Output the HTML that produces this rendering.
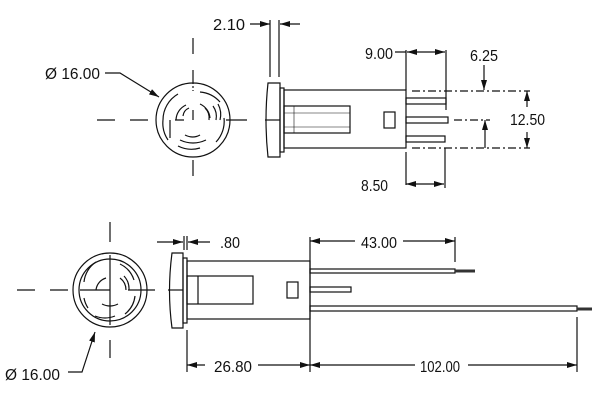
<!DOCTYPE html>
<html><head><meta charset="utf-8"><style>
html,body{margin:0;padding:0;background:#fff;width:600px;height:404px;overflow:hidden}
text{font-family:"Liberation Sans",sans-serif;font-size:16px;fill:#111}
</style></head><body>
<svg width="600" height="404" viewBox="0 0 600 404" xmlns="http://www.w3.org/2000/svg">
<defs>
<marker id="a" viewBox="0 0 10 6" refX="10" refY="3" markerWidth="10" markerHeight="6" orient="auto" markerUnits="userSpaceOnUse"><path d="M0,0L10,3L0,6z" fill="#111"/></marker>
</defs>
<g stroke="#111" stroke-width="1.2" fill="none">
<!-- TOP front circle -->
<circle cx="193" cy="120" r="37"/>
<path d="M97 120h18M130 120h18M226 120h21M193 38v16M193 70v12M193 160v16" />
<path d="M193 82v9" stroke-dasharray="2 2"/>
<path d="M163 120a30 30 0 0 1 15-26M200 92a30 30 0 0 1 20 10M224 118a30 30 0 0 1-8 24M200 148a30 30 0 0 1-22-2M168 140a30 30 0 0 1-5-20"/>
<path d="M176 120a17 17 0 0 1 10-15M200 104a17 17 0 0 1 10 14M183 116a10 10 0 0 1 6-8M205 108a14 14 0 0 1 4 12M213 106a18 18 0 0 1 3 14M218 104a22 22 0 0 1 2 16"/>
<path d="M175 120h9M193 110v10M170 120v18M185 135q8 4 15 0M180 140q13 6 26 0"/>
<!-- leader -->
<path d="M105 73h15l39 24" marker-end="url(#a)"/>
<!-- 2.10 -->
<path d="M250 24h20" marker-end="url(#a)"/><path d="M300 24h-20" marker-end="url(#a)"/>
<path d="M270 20v57M279 20v57"/>
<!-- top side view -->
<path d="M268 83h12v74h-12q-4-37 0-74z"/>
<path d="M265 120h15"/>
<rect x="280" y="88" width="4" height="64"/>
<rect x="284" y="90" width="122" height="58"/>
<rect x="284" y="106" width="66" height="27"/>
<path d="M294 106v27M284 113h66M284 127h66" stroke-width="0.6"/>
<rect x="384" y="112" width="11" height="16"/>
<rect x="406" y="98" width="40" height="6"/>
<rect x="406" y="117" width="42" height="6"/>
<rect x="406" y="136" width="39" height="6"/>
<!-- top dims -->
<path d="M406 50v40M446 50v60M395 52h11"/>
<path d="M426 52h-19" marker-end="url(#a)"/><path d="M426 52h19" marker-end="url(#a)"/>
<path d="M484 65v25" marker-end="url(#a)"/>
<path d="M412 91h118M412 148h118M454 120h36" stroke-dasharray="8 3 2 3"/>
<path d="M527 107v-16" marker-end="url(#a)"/><path d="M527 132v16" marker-end="url(#a)"/>
<path d="M485 148v-28" marker-end="url(#a)"/>
<path d="M406 152v33M445 148v40"/>
<path d="M425 184h-19" marker-end="url(#a)"/><path d="M425 184h19" marker-end="url(#a)"/>
<!-- BOTTOM front circle -->
<circle cx="110" cy="290" r="37"/>
<circle cx="110" cy="290" r="31"/>
<path d="M17 290h18M50 290h18M128 290h27M110 222v20M110 255v70M110 340v18M80 290h30"/>
<path d="M84 282a27 27 0 0 1 12-20M120 264a27 27 0 0 1 14 16M135 296a27 27 0 0 1-10 18M115 316a27 27 0 0 1-20 0M88 308a27 27 0 0 1-4-10"/>
<path d="M96 290a14 14 0 0 1 10-12M120 278a15 15 0 0 1 6 12M124 276a19 19 0 0 1 5 14M102 304q8 4 16 0"/>
<path d="M68 372h14l13-40" marker-end="url(#a)"/>
<!-- bottom side -->
<path d="M172 253h11v75h-11q-5-37 0-75z"/>
<path d="M168 290h15"/>
<rect x="183" y="258" width="4" height="65"/>
<rect x="187" y="261" width="123" height="58"/>
<rect x="187" y="276" width="66" height="28"/>
<path d="M198 276v28"/>
<rect x="287" y="282" width="11" height="16"/>
<rect x="310" y="269" width="145" height="4"/>
<rect x="310" y="287" width="41" height="5"/>
<rect x="310" y="306" width="267" height="5"/>
<path d="M455 271h20M577 309h15" stroke-width="3" stroke="#333"/>
<!-- bottom dims -->
<path d="M157 242h26" marker-end="url(#a)"/><path d="M210 242h-22" marker-end="url(#a)"/>
<path d="M184 236v14M187 236v14"/>
<path d="M310 237v135M455 237v25M187 330v42M577 317v55"/>
<path d="M355 241h-45" marker-end="url(#a)"/><path d="M403 241h52" marker-end="url(#a)"/>
<path d="M205 365h-18" marker-end="url(#a)"/><path d="M258 365h52" marker-end="url(#a)"/>
<path d="M415 365h-105" marker-end="url(#a)"/><path d="M468 365h109" marker-end="url(#a)"/>
</g>
<g>
<text x="45" y="79" textLength="55" lengthAdjust="spacingAndGlyphs">Ø 16.00</text>
<text x="213" y="30" textLength="32" lengthAdjust="spacingAndGlyphs">2.10</text>
<text x="365" y="59" textLength="28" lengthAdjust="spacingAndGlyphs">9.00</text>
<text x="470" y="61" textLength="28" lengthAdjust="spacingAndGlyphs">6.25</text>
<text x="510" y="125" textLength="35" lengthAdjust="spacingAndGlyphs" style="paint-order:stroke" stroke="#fff" stroke-width="4">12.50</text>
<text x="361" y="191" textLength="27" lengthAdjust="spacingAndGlyphs">8.50</text>
<text x="220" y="248" textLength="20" lengthAdjust="spacingAndGlyphs">.80</text>
<text x="361" y="248" textLength="36" lengthAdjust="spacingAndGlyphs">43.00</text>
<text x="214" y="372" textLength="38" lengthAdjust="spacingAndGlyphs">26.80</text>
<text x="420" y="372" textLength="40" lengthAdjust="spacingAndGlyphs">102.00</text>
<text x="5" y="380" textLength="55" lengthAdjust="spacingAndGlyphs">Ø 16.00</text>
</g>
</svg>
</body></html>
